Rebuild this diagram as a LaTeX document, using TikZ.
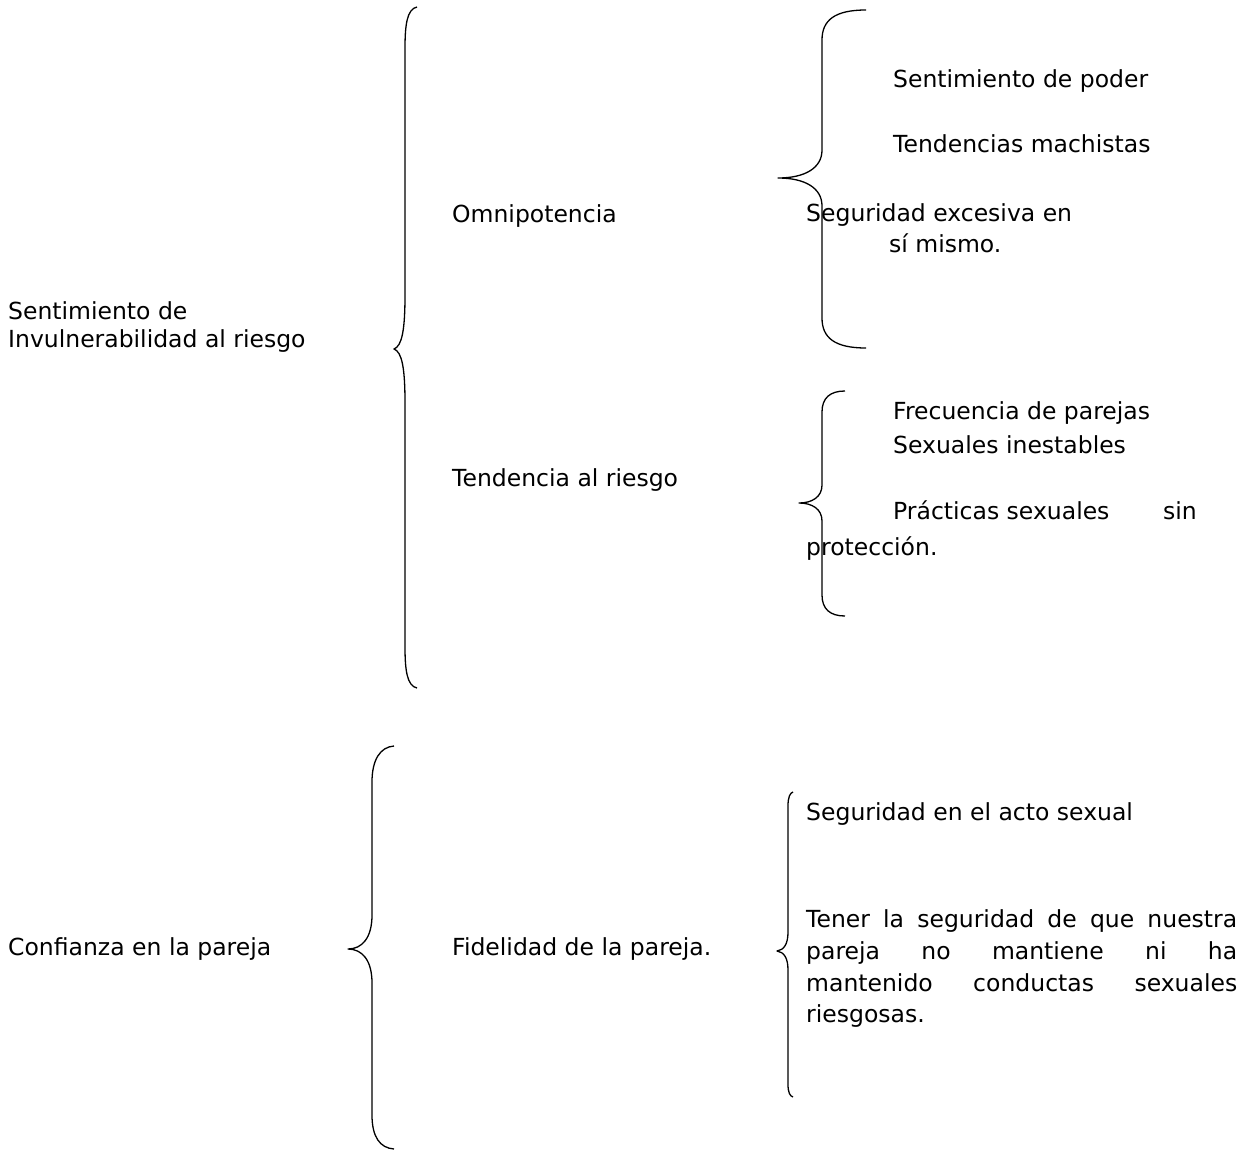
\documentclass[tikz,border=0pt]{standalone}
\usepackage{fontspec}
\setmainfont{DejaVu Sans}
\begin{document}
\begin{tikzpicture}[x=1pt,y=-1pt,
  txt/.style={anchor=base west,inner sep=0pt,font=\fontsize{23.5}{28}\selectfont},
  bracepath/.style={draw=black,line width=1.3pt,line join=round}]
\useasboundingbox (0,0) rectangle (1247,1153);
% ---- braces
% brace 1 (large, top)
\draw[bracepath] (417,7) .. controls (407,9) and (405,25) .. (405,48) -- (405,295)
  .. controls (405,330) and (402,346) .. (394,349) .. controls (402,352) and (405,368) .. (405,403)
  -- (405,647) .. controls (405,670) and (407,686) .. (417,688);
% brace 2 (Omnipotencia)
\draw[bracepath] (866,10) .. controls (835,10) and (822,20) .. (822,40) -- (822,150)
  .. controls (822,168) and (805,178) .. (778,178) .. controls (805,178) and (822,188) .. (822,206)
  -- (822,318) .. controls (822,338) and (835,348) .. (866,348);
% brace 3 (Tendencia al riesgo)
\draw[bracepath] (845,391) .. controls (830,391) and (822,398) .. (822,412) -- (822,485)
  .. controls (822,497) and (812,503) .. (799,503) .. controls (812,503) and (822,509) .. (822,521)
  -- (822,595) .. controls (822,609) and (830,616) .. (845,616);
% brace 4 (large, bottom)
\draw[bracepath] (394,746) .. controls (380,747) and (372,760) .. (372,782) -- (372,915)
  .. controls (372,938) and (362,949) .. (348,949) .. controls (362,949) and (372,960) .. (372,983)
  -- (372,1115) .. controls (372,1137) and (380,1148) .. (394,1149);
% brace 5 (Fidelidad)
\draw[bracepath] (793,792) .. controls (790,793) and (788,797) .. (788,806) -- (788,932)
  .. controls (788,944) and (784,950) .. (777,951) .. controls (784,952) and (788,958) .. (788,970)
  -- (788,1084) .. controls (788,1093) and (790,1096) .. (793,1097);
% ---- texts
\node[txt] (sent1) at (8,319) {Sentimiento de};
\node[txt] (sent2) at (8,347) {Invulnerabilidad al riesgo};
\node[txt] (omni) at (452,222) {Omnipotencia};
\node[txt] (poder) at (893,88) {Sentimiento de poder};
\node[txt] (mach) at (893,152) {Tendencias machistas};
\node[txt] (seg1) at (806,221) {Seguridad excesiva en};
\node[txt] (seg2) at (889,252) {sí mismo.};
\node[txt] (tend) at (452,486) {Tendencia al riesgo};
\node[txt] (frec1) at (893,419) {Frecuencia de parejas};
\node[txt] (frec2) at (893,453) {Sexuales inestables};
\node[txt] (prac) at (893,519) {Prácticas sexuales};
\node[txt] (sin) at (1163,519) {sin};
\node[txt] (prot) at (806,555) {protección.};
\node[txt] (conf) at (8,955) {Confianza en la pareja};
\node[txt] (fid) at (452,955) {Fidelidad de la pareja.};
\node[txt] (segacto) at (806,820) {Seguridad en el acto sexual};
\node[txt] (ten1) at (806,927) {\makebox[431pt][s]{Tener la seguridad de que nuestra}};
\node[txt] (ten2) at (806,959) {\makebox[431pt][s]{pareja no mantiene ni ha}};
\node[txt] (ten3) at (806,991) {\makebox[431pt][s]{mantenido conductas sexuales}};
\node[txt] (ten4) at (806,1022) {riesgosas.};
\end{tikzpicture}
\end{document}
